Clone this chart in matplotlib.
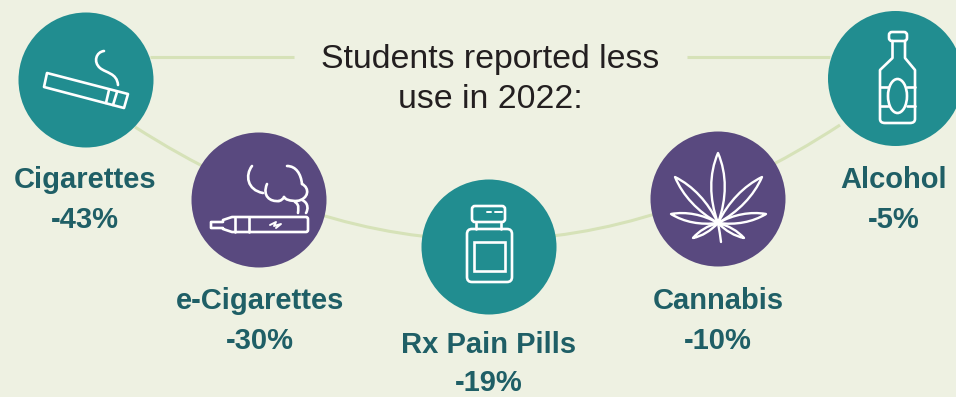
import matplotlib
matplotlib.use("Agg")
import matplotlib.pyplot as plt
from matplotlib.path import Path
from matplotlib.patches import Circle, PathPatch, FancyBboxPatch, Rectangle, Ellipse

categories = ["Cigarettes", "e-Cigarettes", "Rx Pain Pills", "Cannabis", "Alcohol"]
changes = [-43, -30, -19, -10, -5]
title_lines = ["Students reported less", "use in 2022:"]

W, H = 956, 397
BG = "#eef1e2"
LINE = "#d6e2b8"
TEAL = "#218d90"
PURPLE = "#59497f"
LABEL = "#1f5f66"
INK = "#231f20"

centers = [(86, 80), (259, 200), (489, 247), (718, 199), (895.5, 78.5)]
fills = [TEAL, PURPLE, TEAL, PURPLE, TEAL]
label_xy = [(85, 188), (260, 309), (489, 353), (718, 309), (894, 188)]
value_gaps = [40, 40, 38, 40, 40]

fig = plt.figure(figsize=(W / 100, H / 100), dpi=100, facecolor=BG)
ax = fig.add_axes([0, 0, 1, 1])
ax.set_xlim(0, W)
ax.set_ylim(H, 0)
ax.axis("off")

M, C3, C4, L, Z = Path.MOVETO, Path.CURVE3, Path.CURVE4, Path.LINETO, Path.CLOSEPOLY
LW = 1.9


def stroke(verts, codes=None, lw=LW, color="white", zorder=5, closed=False):
    if codes is None:
        codes = [M] + [L] * (len(verts) - 1)
    if closed:
        verts = list(verts) + [verts[0]]
        codes = list(codes) + [Z]
    ax.add_patch(PathPatch(Path(verts, codes), fill=False, edgecolor=color, lw=lw,
                           capstyle="round", joinstyle="round", zorder=zorder))


def rounded(x0, y0, x1, y1, r):
    ax.add_patch(FancyBboxPatch((x0 + r, y0 + r), x1 - x0 - 2 * r, y1 - y0 - 2 * r,
                                boxstyle=f"round,pad={r},rounding_size={r}",
                                fill=False, edgecolor="white", lw=LW, zorder=5))


def leaf(base, tip, spread):
    bx, by = base
    tx, ty = tip
    dx, dy = tx - bx, ty - by
    nx, ny = -dy, dx
    length = (dx ** 2 + dy ** 2) ** 0.5
    nx, ny = nx / length * spread, ny / length * spread
    verts = [base,
             (bx + 0.35 * dx + nx, by + 0.35 * dy + ny),
             (bx + 0.7 * dx + nx, by + 0.7 * dy + ny),
             tip,
             (bx + 0.7 * dx - nx, by + 0.7 * dy - ny),
             (bx + 0.35 * dx - nx, by + 0.35 * dy - ny),
             base]
    stroke(verts, [M, C4, C4, C4, C4, C4, C4], lw=1.7)


# connector lines behind the circles
line_kw = dict(color=LINE, lw=2.2, solid_capstyle="butt", zorder=1)
ax.plot([150, 294], [57, 57], **line_kw)
ax.plot([687, 830], [57, 57], **line_kw)
ax.add_patch(PathPatch(Path([(135, 127), (489, 354), (840, 125)], [M, C3, C3]),
                       fill=False, edgecolor=LINE, lw=2.2, zorder=1))

for (cx, cy), fc in zip(centers, fills):
    ax.add_patch(Circle((cx, cy), 67.5, facecolor=fc, edgecolor="none", zorder=2))

# cigarette
stroke([(47, 73), (128, 94), (124, 108), (44, 87)], [M, L, L, L], closed=True)
stroke([(109, 90), (106, 103)])
stroke([(117, 92), (113, 105)])
stroke([(104, 51), (96, 52), (93, 62), (100, 68), (106, 73), (117, 73), (118, 85)],
       [M, C4, C4, C4, C4, C4, C4])

# vape pen and its vapour
stroke([(211, 222), (223, 222), (223, 220), (232, 217), (306, 217), (308, 217), (308, 219),
        (308, 230), (308, 232), (306, 232), (232, 232), (223, 229), (223, 228), (211, 228)],
       [M, L, L, L, L, C3, C3, L, C3, C3, L, L, L, L], closed=True)
stroke([(235, 217), (235, 232)])
stroke([(249, 217), (249, 232)])
stroke([(270, 225), (276, 222), (274, 226), (281, 224), (276, 228)], lw=1.4)
stroke([(252, 166), (245, 175), (247, 190), (263, 193)], [M, C4, C4, C4])
stroke([(267, 184), (262, 196), (270, 202), (279, 201)], [M, C4, C4, C4])
stroke([(279, 201), (283, 200), (284, 197)], [M, C3, C3])
stroke([(284, 197), (286, 201), (297, 201)], [M, C3, C3])
stroke([(287, 166), (296, 166), (301, 174), (302, 184)], [M, C4, C4, C4])
stroke([(302, 184), (310, 188), (309, 199), (297, 201)], [M, C4, C4, C4])
stroke([(302, 200), (309, 203), (308, 210), (306, 213)], [M, C4, C4, C4])
stroke([(295, 202), (300, 205), (298, 210), (298, 213)], [M, C4, C4, C4])

# pill bottle
rounded(472, 206, 505, 222, 3)
stroke([(487, 212), (491, 212)], lw=1.4)
stroke([(495, 212), (502, 212)], lw=1.4)
stroke([(476, 223), (476, 229)])
stroke([(501, 223), (501, 229)])
rounded(467, 229, 512, 282, 5)
ax.add_patch(Rectangle((474, 242), 31, 29, fill=False, edgecolor="white", lw=LW, zorder=5))

# cannabis leaf
base = (718, 223)
leaf(base, (718, 153), 9)
leaf(base, (675, 177), 7)
leaf(base, (762, 177), 7)
leaf(base, (671, 214), 5.5)
leaf(base, (766, 214), 5.5)
leaf(base, (693, 238), 3)
leaf(base, (744, 238), 3)
stroke([base, (720, 233), (721, 242)], [M, C3, C3], lw=1.7)

# bottle
rounded(889, 32, 907, 41, 3)
stroke([(892.5, 41), (892.5, 58), (880, 70), (880, 119), (880, 123), (885, 123),
        (910, 123), (915, 123), (915, 119), (915, 70), (905, 58), (905, 41)],
       [M, L, L, L, C3, C3, L, C3, C3, L, L, L])
stroke([(880, 87), (888, 87)])
stroke([(880, 106), (888, 106)])
stroke([(907, 87), (915, 87)])
stroke([(907, 106), (915, 106)])
ax.add_patch(Ellipse((897.5, 96), 19, 34, fill=False, edgecolor="white", lw=LW, zorder=5))

title_kw = dict(ha="center", va="baseline", fontsize=24.4, color=INK, family="Liberation Sans", zorder=6)
ax.text(490, 68, title_lines[0], **title_kw)
ax.text(490, 108, title_lines[1], **title_kw)

label_kw = dict(ha="center", va="baseline", fontsize=21, fontweight="bold", color=LABEL,
                family="Liberation Sans", zorder=6)
for name, change, (x, y), gap in zip(categories, changes, label_xy, value_gaps):
    ax.text(x, y, name, **label_kw)
    ax.text(x, y + gap, f"{change}%", **label_kw)

fig.savefig("out.png", dpi=100, facecolor=BG)
